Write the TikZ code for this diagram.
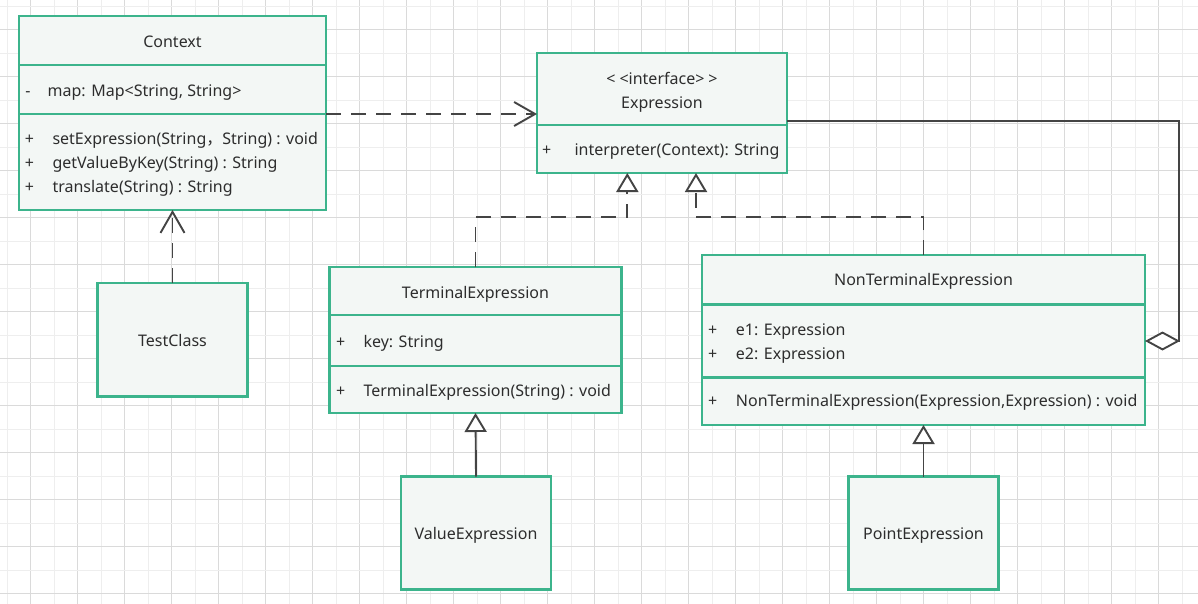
\documentclass[tikz,border=0pt]{standalone}
\usepackage{fontspec}
\setmainfont{Noto Sans}
\newfontfamily\cjk{Noto Sans CJK SC}
\usetikzlibrary{arrows.meta}
\definecolor{umlteal}{RGB}{60,180,140}
\definecolor{umlfill}{RGB}{243,247,245}
\definecolor{umltext}{RGB}{45,45,45}
\definecolor{umlline}{RGB}{68,68,68}
\definecolor{gridA}{RGB}{238,238,238}
\definecolor{gridB}{RGB}{218,218,218}
\begin{document}
\begin{tikzpicture}[x=1pt,y=-1pt,
  comp/.style={draw=umlteal, fill=umlfill, line width=2.2pt, rectangle, inner sep=0pt, outer sep=0pt, anchor=north west},
  txt/.style={text=umltext, inner sep=0pt, font=\fontsize{16}{19}\selectfont},
  conn/.style={draw=umlline, line width=1.9pt},
  dep/.style={conn, dash pattern=on 15pt off 10pt, -{Straight Barb[length=21pt,width=24pt]}},
  real/.style={conn, dash pattern=on 15pt off 10pt, -{Triangle[open, fill=white, length=19pt, width=22pt]}},
  gen/.style={conn, -{Triangle[open, fill=white, length=19pt, width=22pt]}},
  agg/.style={conn, {Diamond[open, fill=white, length=35pt, width=19pt]}-}
]
\fill[white] (0,0) rectangle (1198,604);
\useasboundingbox (0,0) rectangle (1198,604);
% grid
\foreach \k in {0,...,50} {
  \pgfmathsetmacro\xx{7+23.5*\k}
  \ifodd\k \def\gc{gridB}\else\def\gc{gridA}\fi
  \draw[\gc, line width=1pt] (\xx,0) -- (\xx,604);
}
\foreach \k in {0,...,25} {
  \pgfmathsetmacro\yy{6.3+23.5*\k}
  \ifodd\k \def\gc{gridB}\else\def\gc{gridA}\fi
  \draw[\gc, line width=1pt] (0,\yy) -- (1198,\yy);
}

% Context
\node[comp, minimum width=307pt, minimum height=49pt] (ctxhead) at (19,16) {};
\node[comp, minimum width=307pt, minimum height=49pt] (ctxattr) at (19,65) {};
\node[comp, minimum width=307pt, minimum height=96pt] (ctxops) at (19,114) {};
\node[txt, anchor=base] (ctxname) at (172.5,47.3) {Context};
\node[txt, anchor=base] (ctxv1) at (28,96.7) {-};
\node[txt, anchor=base west] (ctxa1) at (47.5,96.7) {map: Map<String, String>};
\node[txt, anchor=base] (ctxv2) at (29.5,144.3) {+};
\node[txt, anchor=base west] (ctxo1) at (52.3,144.3) {setExpression(String{\cjk ，}String) : void};
\node[txt, anchor=base] (ctxv3) at (29.5,168.3) {+};
\node[txt, anchor=base west] (ctxo2) at (52.3,168.3) {getValueByKey(String) : String};
\node[txt, anchor=base] (ctxv4) at (29.5,192.5) {+};
\node[txt, anchor=base west] (ctxo3) at (52.3,192.5) {translate(String) : String};

% Expression
\node[comp, minimum width=250pt, minimum height=72pt] (exprhead) at (537,53) {};
\node[comp, minimum width=250pt, minimum height=48pt] (exprops) at (537,125) {};
\node[txt, anchor=base] (exprst) at (662,84.3) {<\kern4pt<interface>\kern4pt>};
\node[txt, anchor=base] (exprname) at (662,108.3) {Expression};
\node[txt, anchor=base] (exprv1) at (546.7,155.7) {+};
\node[txt, anchor=base west] (expro1) at (574.3,155.7) {interpreter(Context): String};

% TerminalExpression
\node[comp, minimum width=292pt, minimum height=48pt] (termhead) at (329.5,267) {};
\node[comp, minimum width=292pt, minimum height=51pt] (termattr) at (329.5,315) {};
\node[comp, minimum width=292pt, minimum height=47pt] (termops) at (329.5,366) {};
\node[txt, anchor=base] (termname) at (475.5,298.3) {TerminalExpression};
\node[txt, anchor=base] (termv1) at (340.7,347.3) {+};
\node[txt, anchor=base west] (terma1) at (363.3,347.3) {key: String};
\node[txt, anchor=base] (termv2) at (340.7,396) {+};
\node[txt, anchor=base west] (termo1) at (363.3,396) {TerminalExpression(String) : void};

% NonTerminalExpression
\node[comp, minimum width=443pt, minimum height=49.5pt] (nthead) at (702,255) {};
\node[comp, minimum width=443pt, minimum height=73pt] (ntattr) at (702,304.5) {};
\node[comp, minimum width=443pt, minimum height=47.5pt] (ntops) at (702,377.5) {};
\node[txt, anchor=base] (ntname) at (923.5,285.7) {NonTerminalExpression};
\node[txt, anchor=base] (ntv1) at (712.7,335) {+};
\node[txt, anchor=base west] (nta1) at (735.7,335) {e1: Expression};
\node[txt, anchor=base] (ntv2) at (712.7,359) {+};
\node[txt, anchor=base west] (nta2) at (735.7,359) {e2: Expression};
\node[txt, anchor=base] (ntv3) at (712.7,406.7) {+};
\node[txt, anchor=base west] (nto1) at (735.7,406.7) {NonTerminalExpression(Expression,Expression) : void};

% simple classes
\node[comp, minimum width=150pt, minimum height=113.5pt] (test) at (97.5,283) {};
\node[txt, anchor=base] (testname) at (172.5,346.7) {TestClass};
\node[comp, minimum width=150pt, minimum height=113pt] (val) at (401,476.5) {};
\node[txt, anchor=base] (valname) at (476,539) {ValueExpression};
\node[comp, minimum width=150pt, minimum height=113pt] (pt) at (848.5,476.5) {};
\node[txt, anchor=base] (ptname) at (923.5,539) {PointExpression};

% connectors
\draw[dep] (ctxops.north east) -- (ctxops.north east -| exprhead.west);
\draw[dep] (test.north) -- (ctxops.south);
\coordinate (tj) at (627.3,217.3);
\draw[real] (termhead.north) |- (tj) -- (tj |- exprops.south);
\coordinate (nj) at (696,217.3);
\draw[real] (nthead.north) |- (nj) -- (nj |- exprops.south);
\draw[gen] (val.north) -- (termops.south);
\draw[gen] (pt.north) -- (ntops.south);
\coordinate (ag) at (1179.3,121);
\draw[agg] (ntattr.east) -| (ag) -- (ag -| exprhead.east);
\end{tikzpicture}
\end{document}
